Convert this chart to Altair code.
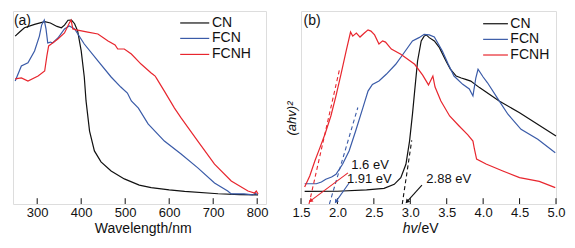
import altair as alt
import pandas as pd

FONT = "Liberation Sans"

# ---------------- Panel (a): absorption spectra ----------------
wl_cn = [250, 260, 271, 294, 317, 330, 345, 355, 362, 370, 378, 385, 392, 400, 407, 411,
         419, 430, 445, 468, 498, 532, 559, 600, 635, 711, 760, 802]
abs_cn = [87.0, 89.1, 91.3, 93.1, 94.5, 93.8, 92.0, 91.3, 92.7, 95.2, 95.3, 93.4, 89.6, 79.3,
          65.8, 53.4, 37.8, 27.5, 21.8, 17.1, 13.0, 9.8, 8.5, 7.3, 6.5, 5.3, 4.9, 4.7]

wl_fcn = [250, 264, 279, 294, 305, 310, 316, 320, 324, 330, 335, 347, 362, 373, 385, 407, 438,
          468, 490, 505, 514, 530, 552, 589, 627, 665, 703, 733, 741, 770, 790, 796, 800]
abs_fcn = [63.7, 71.5, 73.2, 79.3, 87.0, 92.7, 95.3, 90.7, 83.4, 83.9, 83.4, 86.0, 90.7, 92.2,
           90.7, 82.9, 74.1, 65.8, 60.6, 57.5, 53.4, 49.7, 41.5, 32.6, 25.9, 18.7, 10.9, 6.7,
           5.2, 5.2, 4.7, 5.7, 4.7]

wl_fcnh = [250, 264, 279, 302, 317, 322, 326, 332, 347, 362, 373, 377, 381, 389, 415, 438, 461,
           477, 483, 498, 514, 536, 559, 565, 568, 572, 589, 612, 627, 665, 703, 741, 779, 794,
           798, 802]
abs_fcnh = [64.8, 65.3, 63.7, 66.3, 68.9, 76.7, 81.9, 82.9, 85.5, 88.6, 93.8, 95.3, 90.7, 90.2,
            89.1, 88.1, 84.5, 82.4, 80.3, 80.3, 77.7, 72.5, 67.9, 66.8, 66.3, 64.8, 58.5, 49.7,
            44.6, 32.6, 20.7, 11.9, 6.7, 5.7, 6.7, 5.2]

ticks_a = [300, 400, 500, 600, 700, 800]

# ---------------- Panel (b): Tauc plot ----------------
ev_cn = [1.55, 2.0, 2.4, 2.64, 2.78, 2.87, 2.94, 2.99, 3.03, 3.06, 3.10, 3.15, 3.19, 3.22, 3.26,
         3.33, 3.40, 3.49, 3.55, 3.63, 3.70, 3.76, 3.83, 3.95, 4.22, 4.50, 5.0]
tauc_cn = [6.5, 6.6, 7.3, 8.1, 10.2, 13.6, 20.6, 32.6, 46.6, 58.5, 74.1, 84.5, 87.0, 87.6, 86.2,
           84.5, 81.0, 74.1, 69.9, 66.3, 65.3, 64.6, 63.7, 60.3, 53.4, 47.3, 35.2]

ev_fcn = [1.55, 1.71, 1.78, 1.84, 1.92, 1.98, 2.07, 2.16, 2.25, 2.35, 2.42, 2.48, 2.57, 2.67,
          2.80, 2.90, 3.03, 3.12, 3.19, 3.26, 3.33, 3.44, 3.52, 3.60, 3.72, 3.81, 3.86, 3.90,
          3.93, 4.00, 4.06, 4.22, 4.34, 4.52, 4.75, 4.99]
tauc_fcn = [10.5, 10.5, 11.4, 12.8, 14.0, 15.4, 20.6, 27.5, 37.8, 49.9, 58.5, 62.0, 63.7, 67.2,
            72.4, 77.6, 84.5, 86.2, 87.9, 87.6, 86.5, 79.3, 72.5, 66.3, 62.0, 59.6, 56.0, 65.4,
            69.8, 65.8, 62.8, 53.4, 46.5, 38.7, 33.5, 26.6]

ev_fcnh = [1.55, 1.62, 1.69, 1.76, 1.83, 1.91, 1.98, 2.05, 2.12, 2.18, 2.21, 2.26, 2.31, 2.37,
           2.42, 2.46, 2.51, 2.57, 2.62, 2.66, 2.74, 2.87, 3.06, 3.17, 3.25, 3.29, 3.31, 3.34,
           3.42, 3.54, 3.67, 3.79, 3.86, 3.88, 3.91, 4.04, 4.27, 4.50, 4.77, 4.99]
tauc_fcnh = [8.8, 14.5, 22.3, 29.2, 36.3, 45.6, 56.0, 67.4, 79.3, 89.1, 87.0, 88.6, 86.5, 88.6,
             90.2, 89.6, 87.6, 82.9, 84.5, 83.9, 80.3, 77.6, 72.4, 66.8, 61.7, 64.8, 66.3, 60.6,
             53.4, 45.6, 40.4, 35.8, 32.6, 28.5, 23.3, 20.7, 17.1, 13.7, 11.7, 8.5]

ticks_b = [1.5, 2.0, 2.5, 3.0, 3.5, 4.0, 4.5, 5.0]

# band-gap tangent lines (dashed) and pointer lines (solid arrows)
tan_series = ["FCNH", "FCN", "CN"]
tan_x1 = [1.61, 1.89, 2.89]
tan_y1 = [0.0, 0.0, 0.0]
tan_x2 = [2.03, 2.28, 3.02]
tan_y2 = [70.0, 50.0, 33.0]

arr_series = ["FCNH", "FCN", "CN"]
arr_x1 = [2.145, 2.16, 3.16]
arr_y1 = [16.1, 10.9, 9.8]
arr_x2 = [1.63, 1.98, 2.955]
arr_y2 = [1.6, 1.2, 1.2]
arr_angle = [233, 214, 221]

gap_labels = ["1.6 eV", "1.91 eV", "2.88 eV"]
gap_lx = [2.19, 2.13, 3.22]
gap_ly = [20.4, 13.0, 13.0]

names = ["CN", "FCN", "FCNH"]
colors = ["#111111", "#3a5ba8", "#e8262e"]

leg_a_y = [93.8, 85.8, 77.5]
leg_b_y = [93.4, 85.3, 77.2]

color_scale = alt.Scale(domain=names, range=colors)


def series(xs, ys, name):
    return pd.DataFrame({"x": xs, "y": ys, "s": name, "i": range(len(xs))})


def make_axes(ticks, fmt, yaxis):
    xaxis = alt.Axis(values=ticks, title=None, ticks=False, domain=False, grid=False,
                     labelFontSize=13, labelFont=FONT, labelColor="#111", labelPadding=2,
                     labelFlush=False, labelOverlap=False, format=fmt)
    return xaxis, yaxis


def panel(xs_list, ys_list, xdom, ticks, fmt, leg_y, leg_x1, leg_x2, leg_tx, tag, tag_x, yaxis):
    df = pd.concat([series(x, y, n) for x, y, n in zip(xs_list, ys_list, names)])
    xs = alt.Scale(domain=xdom, nice=False, zero=False)
    ys = alt.Scale(domain=[0, 100], nice=False, zero=False)
    xa, ya = make_axes(ticks, fmt, yaxis)

    def X(f):
        return alt.X(f, scale=xs, axis=xa)

    def Y(f):
        return alt.Y(f, scale=ys, axis=ya)

    lines = alt.Chart(df).mark_line(strokeWidth=1.2).encode(
        x=X("x:Q"), y=Y("y:Q"),
        color=alt.Color("s:N", scale=color_scale, legend=None),
        detail="s:N", order="i:Q")
    tdf = pd.DataFrame({"x": ticks, "y0": 0, "y1": 3})
    tick_marks = alt.Chart(tdf).mark_rule(color="#111", strokeWidth=1).encode(
        x=X("x:Q"), y=Y("y0:Q"), y2="y1:Q")
    ldf = pd.DataFrame({"s": names, "y": leg_y, "x1": leg_x1, "x2": leg_x2, "tx": leg_tx})
    leg_lines = alt.Chart(ldf).mark_rule(strokeWidth=1.2).encode(
        x=X("x1:Q"), x2="x2:Q", y=Y("y:Q"),
        color=alt.Color("s:N", scale=color_scale, legend=None))
    leg_text = alt.Chart(ldf).mark_text(align="left", baseline="middle", fontSize=14,
                                        font=FONT, color="#111", dx=1).encode(
        x=X("tx:Q"), y=Y("y:Q"), text="s:N")
    tag_df = pd.DataFrame({"t": [tag], "x": [tag_x], "y": [95.0]})
    tag_text = alt.Chart(tag_df).mark_text(align="left", baseline="middle", fontSize=14,
                                           font=FONT, color="#111").encode(
        x=X("x:Q"), y=Y("y:Q"), text="t:N")
    return [lines, tick_marks, leg_lines, leg_text, tag_text], X, Y


def txt(df, X, Y, **kw):
    return alt.Chart(df).mark_text(font=FONT, color="#111", **kw).encode(
        x=X("x:Q"), y=Y("y:Q"), text="t:N")


# Panel (a)
layers_a, Xa, Ya = panel([wl_cn, wl_fcn, wl_fcnh], [abs_cn, abs_fcn, abs_fcnh], [245, 820],
                         ticks_a, "d", leg_a_y, [625] * 3, [691] * 3, [695] * 3, "(a)", 247,
                         None)
title_a = txt(pd.DataFrame({"t": ["Wavelength/nm"], "x": [541], "y": [-14.8]}), Xa, Ya,
              align="center", baseline="alphabetic", fontSize=14)
chart_a = alt.layer(*layers_a, title_a).properties(width=253, height=193)

# Panel (b)
yaxis_b = alt.Axis(title="(ahv)²", labels=False, ticks=False, domain=False, grid=False,
                   titleFontStyle="italic", titleFontWeight="normal", titleFontSize=13,
                   titleFont=FONT, titleColor="#111", titleAngle=270, titleX=-10, titleY=107,
                   titleBaseline="middle", titleAlign="center")
layers_b, Xb, Yb = panel([ev_cn, ev_fcn, ev_fcnh], [tauc_cn, tauc_fcn, tauc_fcnh], [1.5, 5.0],
                         ticks_b, ".1f", leg_b_y, [4.0] * 3, [4.34] * 3, [4.36] * 3, "(b)",
                         1.535, yaxis_b)

tan_df = pd.DataFrame({"s": tan_series, "x1": tan_x1, "y1": tan_y1, "x2": tan_x2, "y2": tan_y2})
tangents = alt.Chart(tan_df).mark_rule(strokeWidth=1.1, strokeDash=[4, 3]).encode(
    x=Xb("x1:Q"), x2="x2:Q", y=Yb("y1:Q"), y2="y2:Q",
    color=alt.Color("s:N", scale=color_scale, legend=None))
arr_df = pd.DataFrame({"s": arr_series, "x1": arr_x1, "y1": arr_y1, "x2": arr_x2, "y2": arr_y2,
                       "a": arr_angle})
arrows = alt.Chart(arr_df).mark_rule(strokeWidth=1.1).encode(
    x=Xb("x1:Q"), x2="x2:Q", y=Yb("y1:Q"), y2="y2:Q",
    color=alt.Color("s:N", scale=color_scale, legend=None))
heads = alt.Chart(arr_df).mark_point(shape="triangle-up", filled=True, size=22, opacity=1).encode(
    x=Xb("x2:Q"), y=Yb("y2:Q"),
    angle=alt.Angle("a:Q", scale=None),
    color=alt.Color("s:N", scale=color_scale, legend=None))
gap_text = txt(pd.DataFrame({"t": gap_labels, "x": gap_lx, "y": gap_ly}), Xb, Yb,
               align="left", baseline="middle", fontSize=13)
hv_text = txt(pd.DataFrame({"t": ["hv"], "x": [3.10], "y": [-14.8]}), Xb, Yb,
              align="right", baseline="alphabetic", fontSize=14, fontStyle="italic")
ev_text = txt(pd.DataFrame({"t": ["/eV"], "x": [3.10], "y": [-14.8]}), Xb, Yb,
              align="left", baseline="alphabetic", fontSize=14)

chart_b = alt.layer(*layers_b, tangents, arrows, heads, gap_text, hv_text, ev_text).properties(
    width=255, height=193)

chart = alt.hconcat(chart_a, chart_b, spacing=15).properties(
    padding={"left": 4, "top": 2, "right": 0, "bottom": 0}
).configure_view(stroke="#222", strokeWidth=1).configure_axis(labelOverlap=False).configure(
    background="white")

chart.save("out.html", embed_options={"renderer": "svg", "actions": False})
